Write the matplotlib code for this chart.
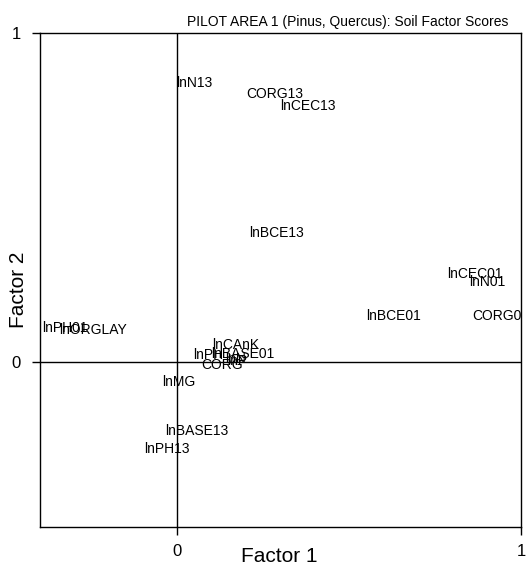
import matplotlib
matplotlib.use("Agg")
import matplotlib.pyplot as plt

plt.rcParams['font.family'] = ['Liberation Sans', 'DejaVu Sans']

# factor scores (label anchor = left edge of label)
labels = ['lnN13', 'CORG13', 'lnCEC13', 'lnBCE13', 'lnCEC01', 'lnN01',
          'lnBCE01', 'CORG01', 'lnPH01', 'lnORGLAY', 'lnCAnK', 'lnPH',
          'lnBASE01', 'lnN', 'lnP', 'CORG', 'lnMG', 'lnBASE13', 'lnPH13']
factor1 = [-0.004, 0.200, 0.300, 0.208, 0.784, 0.848,
           0.550, 0.857, -0.394, -0.344, 0.101, 0.047,
           0.098, 0.138, 0.146, 0.069, -0.044, -0.035, -0.097]
factor2 = [0.848, 0.816, 0.777, 0.392, 0.268, 0.244,
           0.140, 0.140, 0.104, 0.098, 0.052, 0.023,
           0.026, 0.009, 0.004, -0.009, -0.061, -0.207, -0.264]

fig = plt.figure(figsize=(5.28, 5.67), dpi=100)
ax = fig.add_axes([40/528, 1-527/567, 481/528, 494/567])

ax.axhline(0, color='black', lw=1)
ax.axvline(0, color='black', lw=1)

for lab, x, y in zip(labels, factor1, factor2):
    ax.text(x, y, lab, ha='left', va='center', fontsize=10, clip_on=True)

ax.set_xlim(-0.4, 1)
ax.set_ylim(-0.5, 1)
ax.set_xticks([0, 1])
ax.set_yticks([0, 1])
ax.set_xticklabels(['0', '1'])
ax.set_yticklabels(['0', '1'])
ax.tick_params(direction='out', length=6, width=1, labelsize=12, pad=6)
ax.tick_params(axis='y', pad=8)
for s in ax.spines.values():
    s.set_linewidth(1)

# axis titles placed as figure text so they stay inside the small canvas
fig.text(279/528, 1-557/567, 'Factor 1', ha='center', va='center', fontsize=15)
fig.text(18/528, 1-290/567, 'Factor 2', ha='center', va='center',
         rotation=90, fontsize=15)
fig.text(508/528, 1-22/567, 'PILOT AREA 1 (Pinus, Quercus): Soil Factor Scores',
         ha='right', va='center', fontsize=10)

fig.savefig('out.png', dpi=100)
